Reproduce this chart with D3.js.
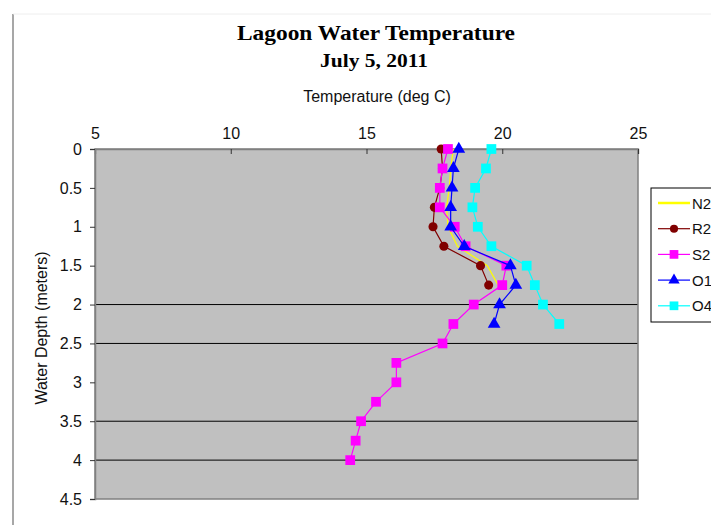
<!DOCTYPE html>
<html><head><meta charset="utf-8">
<script src="https://cdn.jsdelivr.net/npm/d3@7"></script>
<style>body{margin:0;background:#fff;overflow:hidden}svg{display:block}</style>
</head><body>
<script>
const depthsAll = [0,0.25,0.5,0.75,1,1.25,1.5,1.75,2,2.25,2.5,2.75,3,3.25,3.5,3.75,4];
const seriesNames = ["N2","R2","S2","O1","O4"];
const N2 = [18.2,18.1,18.05,17.95,18.0,18.35,19.45,19.85];
const R2 = [17.75,17.8,17.7,17.5,17.45,17.85,19.2,19.5];
const S2 = [18.0,17.8,17.7,17.7,18.25,18.65,20.15,20.0,18.95,18.2,17.8,16.1,16.1,15.35,14.8,14.6,14.4];
const O1 = [18.4,18.2,18.15,18.1,18.1,18.6,20.3,20.5,19.9,19.7];
const O4 = [19.6,19.4,19.0,18.9,19.1,19.6,20.9,21.2,21.5,22.1];
const xTicks = [5,10,15,20,25];
const yTicks = [0,0.5,1,1.5,2,2.5,3,3.5,4,4.5];
const gridDepths = [2,2.5,3.5,4];

const W=711,H=525;
const svg=d3.select("body").append("svg").attr("width",W).attr("height",H);
const L=95,R=638,T=149,B=499;
const x=d3.scaleLinear().domain([5,25]).range([L,R]);
const y=d3.scaleLinear().domain([0,4.5]).range([T,B]);
const SANS="Liberation Sans, Arial, sans-serif", SERIF="Liberation Serif, Times New Roman, serif";

// chart area border
svg.append("line").attr("x1",13).attr("x2",13).attr("y1",14).attr("y2",H).attr("stroke","#8a8a8a").attr("stroke-width",1.5);
svg.append("line").attr("x1",13).attr("x2",W).attr("y1",14).attr("y2",14).attr("stroke","#eeeeee");

// titles
svg.append("text").attr("x",376).attr("y",40).attr("text-anchor","middle")
  .attr("font-family",SERIF).attr("font-weight","bold").attr("font-size",21)
  .attr("textLength",278).attr("lengthAdjust","spacingAndGlyphs").text("Lagoon Water Temperature");
svg.append("text").attr("x",374).attr("y",67).attr("text-anchor","middle")
  .attr("font-family",SERIF).attr("font-weight","bold").attr("font-size",18)
  .attr("textLength",108).attr("lengthAdjust","spacingAndGlyphs").text("July 5, 2011");
svg.append("text").attr("x",377).attr("y",102).attr("text-anchor","middle")
  .attr("font-family",SANS).attr("font-size",16).attr("fill","#111").text("Temperature (deg C)");
svg.append("text").attr("transform",`translate(47,328) rotate(-90)`).attr("text-anchor","middle")
  .attr("font-family",SANS).attr("font-size",16).attr("fill","#111").text("Water Depth (meters)");

// plot bg
svg.append("rect").attr("x",L).attr("y",T).attr("width",R-L).attr("height",B-T).attr("fill","#c0c0c0");
// gridlines
svg.append("g").selectAll("line").data(gridDepths).join("line")
  .attr("x1",L).attr("x2",R).attr("y1",d=>y(d)).attr("y2",d=>y(d)).attr("stroke","#000").attr("stroke-width",1);
svg.append("rect").attr("x",L).attr("y",T).attr("width",R-L).attr("height",B-T).attr("fill","none").attr("stroke","#808080").attr("stroke-width",1.5);

// axes
const xa=svg.append("g").attr("transform",`translate(0,${T})`).call(d3.axisTop(x).tickValues(xTicks).tickSize(-5).tickPadding(10).tickFormat(d3.format("d")));
const ya=svg.append("g").attr("transform",`translate(${L},0)`).call(d3.axisLeft(y).tickValues(yTicks).tickSize(5).tickPadding(8).tickFormat(d=>String(d)));
[xa,ya].forEach(a=>{a.select(".domain").attr("stroke","#808080").attr("stroke-width",1.5);
  a.selectAll(".tick line").attr("stroke","#333");
  a.selectAll(".tick text").attr("font-family",SANS).attr("font-size",16).attr("fill","#111");});

// series
const series=[
 {name:"N2",vals:N2,color:"#ffff00",shape:"x"},
 {name:"R2",vals:R2,color:"#800000",shape:"circle"},
 {name:"S2",vals:S2,color:"#ff00ff",shape:"square"},
 {name:"O1",vals:O1,color:"#0000ff",shape:"triangle"},
 {name:"O4",vals:O4,color:"#00ffff",shape:"square"}
];
const symType={circle:d3.symbolCircle,square:d3.symbolSquare,triangle:d3.symbolTriangle,x:d3.symbolCross};
const symSize={circle:65,square:95,triangle:70,x:30};
const line=d3.line().x(d=>x(d.t)).y(d=>y(d.d));
series.forEach(s=>{
  const pts=s.vals.map((t,i)=>({t,d:depthsAll[i]}));
  const g=svg.append("g");
  g.append("path").datum(pts).attr("d",line).attr("fill","none").attr("stroke",s.color).attr("stroke-width",1.2);
  if(s.shape!=="x"){
    g.selectAll("path.m").data(pts).join("path").attr("class","m")
      .attr("transform",d=>`translate(${x(d.t)},${y(d.d)})`)
      .attr("d",d3.symbol().type(symType[s.shape]).size(symSize[s.shape])).attr("fill",s.color);
  }
});

// legend
const lg=svg.append("g").attr("transform","translate(651,188)");
lg.append("rect").attr("width",90).attr("height",134).attr("fill","#fff").attr("stroke","#000");
series.forEach((s,i)=>{
  const yy=15+i*25.7;
  lg.append("line").attr("x1",7).attr("x2",39).attr("y1",yy).attr("y2",yy).attr("stroke",s.color).attr("stroke-width",s.shape==="x"?2.5:1.2);
  if(s.shape!=="x") lg.append("path").attr("transform",`translate(23,${yy})`).attr("d",d3.symbol().type(symType[s.shape]).size(symSize[s.shape]*0.8)).attr("fill",s.color);
  lg.append("text").attr("x",41).attr("y",yy+5.5).attr("font-family",SANS).attr("font-size",15).attr("fill","#111").text(s.name);
});
</script>
</body></html>
